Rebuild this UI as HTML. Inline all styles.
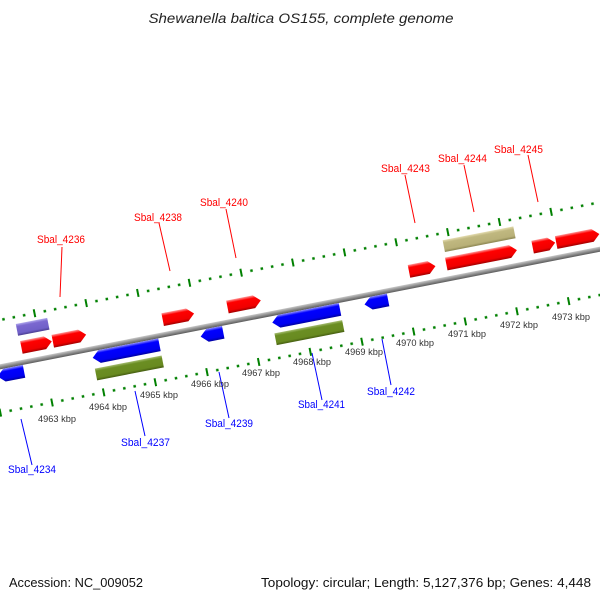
<!DOCTYPE html>
<html><head><meta charset="utf-8"><style>
html,body{margin:0;padding:0;background:#fff}
svg{display:block}
text{font-family:"Liberation Sans","DejaVu Sans",sans-serif}
</style></head><body>
<svg width="600" height="600" viewBox="0 0 600 600" xmlns="http://www.w3.org/2000/svg">
<defs>
<linearGradient id="gr" x1="0" y1="0" x2="0" y2="1"><stop offset="0" stop-color="#ff9a9a"/><stop offset="0.22" stop-color="#ff0000"/><stop offset="0.78" stop-color="#f00000"/><stop offset="1" stop-color="#a00000"/></linearGradient>
<linearGradient id="gb" x1="0" y1="0" x2="0" y2="1"><stop offset="0" stop-color="#9090ff"/><stop offset="0.22" stop-color="#0000ff"/><stop offset="0.78" stop-color="#0000f0"/><stop offset="1" stop-color="#0000a0"/></linearGradient>
<linearGradient id="gp" x1="0" y1="0" x2="0" y2="1"><stop offset="0" stop-color="#b0a8ec"/><stop offset="0.22" stop-color="#7b68d0"/><stop offset="0.78" stop-color="#7060c8"/><stop offset="1" stop-color="#4a3c90"/></linearGradient>
<linearGradient id="gk" x1="0" y1="0" x2="0" y2="1"><stop offset="0" stop-color="#e4dcb0"/><stop offset="0.22" stop-color="#c0b880"/><stop offset="0.78" stop-color="#b8b078"/><stop offset="1" stop-color="#8a8450"/></linearGradient>
<linearGradient id="gg" x1="0" y1="0" x2="0" y2="1"><stop offset="0" stop-color="#a4bc70"/><stop offset="0.22" stop-color="#6b8e23"/><stop offset="0.78" stop-color="#688a20"/><stop offset="1" stop-color="#445c10"/></linearGradient>
<linearGradient id="ga" x1="0" y1="0" x2="0" y2="1"><stop offset="0" stop-color="#c8c8c8"/><stop offset="0.5" stop-color="#909090"/><stop offset="1" stop-color="#5a5a5a"/></linearGradient>
<pattern id="pt" patternUnits="userSpaceOnUse" x="0.7" y="-51" width="52.65" height="10">
<rect x="0" y="1" width="2" height="8" fill="#008000"/>
<rect x="10.28" y="3.75" width="2.5" height="2.5" fill="#008000"/>
<rect x="20.81" y="3.75" width="2.5" height="2.5" fill="#008000"/>
<rect x="31.34" y="3.75" width="2.5" height="2.5" fill="#008000"/>
<rect x="41.87" y="3.75" width="2.5" height="2.5" fill="#008000"/>
</pattern>
<pattern id="pb" patternUnits="userSpaceOnUse" x="0.7" y="40" width="52.65" height="10">
<rect x="0" y="1" width="2" height="8" fill="#008000"/>
<rect x="10.28" y="3.75" width="2.5" height="2.5" fill="#008000"/>
<rect x="20.81" y="3.75" width="2.5" height="2.5" fill="#008000"/>
<rect x="31.34" y="3.75" width="2.5" height="2.5" fill="#008000"/>
<rect x="41.87" y="3.75" width="2.5" height="2.5" fill="#008000"/>
</pattern>
</defs>

<text x="301" y="23" font-size="14" font-style="italic" text-anchor="middle" fill="#222" textLength="305" lengthAdjust="spacingAndGlyphs">Shewanella baltica OS155, complete genome</text>

<!-- label lines -->
<g stroke="#ff0000" stroke-width="1">
<line x1="60" y1="297" x2="62" y2="247"/>
<line x1="170" y1="271" x2="159" y2="223"/>
<line x1="236" y1="258" x2="226" y2="209"/>
<line x1="415" y1="223" x2="405" y2="175"/>
<line x1="474" y1="212" x2="464" y2="165"/>
<line x1="538" y1="202" x2="528" y2="155"/>
</g>
<g stroke="#0000ff" stroke-width="1">
<line x1="21" y1="419" x2="32" y2="465"/>
<line x1="135" y1="391" x2="145" y2="436"/>
<line x1="219" y1="372" x2="229" y2="418"/>
<line x1="312" y1="353" x2="322" y2="400"/>
<line x1="382" y1="339" x2="391" y2="385"/>
</g>

<g transform="translate(300,308) rotate(-11.1)">
<rect x="-330" y="-51" width="660" height="10" fill="url(#pt)"/>
<rect x="-330" y="40" width="660" height="10" fill="url(#pb)"/>
<rect x="-340" y="-2.5" width="680" height="5" fill="url(#ga)"/>
<!-- top boxes -->
<rect x="-282" y="-39" width="32" height="12" fill="url(#gp)"/>
<rect x="153" y="-39" width="72" height="12" fill="url(#gk)"/>
<!-- red arrows -->
<g fill="url(#gr)">
<polygon points="-281,-21.5 -257,-21.5 -250,-15 -257,-8.5 -281,-8.5"/>
<polygon points="-249,-21.5 -222,-21.5 -215,-15 -222,-8.5 -249,-8.5"/>
<polygon points="-137,-21.5 -112,-21.5 -105,-15 -112,-8.5 -137,-8.5"/>
<polygon points="-71,-21.5 -44,-21.5 -37,-15 -44,-8.5 -71,-8.5"/>
<polygon points="114,-21.5 134,-21.5 141,-15 134,-8.5 114,-8.5"/>
<polygon points="152,-21.5 217,-21.5 224,-15 217,-8.5 152,-8.5"/>
<polygon points="240,-21.5 256,-21.5 263,-15 256,-8.5 240,-8.5"/>
<polygon points="264,-21.5 301,-21.5 308,-15 301,-8.5 264,-8.5"/>
</g>
<!-- blue arrows -->
<g fill="url(#gb)">
<polygon points="-283,2.5 -303,2.5 -310,9 -303,15.5 -283,15.5"/>
<polygon points="-145,2.5 -206,2.5 -213,9 -206,15.5 -145,15.5"/>
<polygon points="-80,2.5 -96,2.5 -103,9 -96,15.5 -80,15.5"/>
<polygon points="39,2.5 -23,2.5 -30,9 -23,15.5 39,15.5"/>
<polygon points="88,2.5 71,2.5 64,9 71,15.5 88,15.5"/>
</g>
<!-- green boxes -->
<rect x="-213" y="20" width="68" height="12" fill="url(#gg)"/>
<rect x="-30" y="20" width="69" height="12" fill="url(#gg)"/>
</g>

<!-- feature labels -->
<g font-size="11" fill="#ff0000">
<text x="37" y="243" textLength="48" lengthAdjust="spacingAndGlyphs">Sbal_4236</text>
<text x="134" y="221" textLength="48" lengthAdjust="spacingAndGlyphs">Sbal_4238</text>
<text x="200" y="206" textLength="48" lengthAdjust="spacingAndGlyphs">Sbal_4240</text>
<text x="381" y="172" textLength="49" lengthAdjust="spacingAndGlyphs">Sbal_4243</text>
<text x="438" y="162" textLength="49" lengthAdjust="spacingAndGlyphs">Sbal_4244</text>
<text x="494" y="153" textLength="49" lengthAdjust="spacingAndGlyphs">Sbal_4245</text>
</g>
<g font-size="11" fill="#0000ff">
<text x="8" y="473" textLength="48" lengthAdjust="spacingAndGlyphs">Sbal_4234</text>
<text x="121" y="446" textLength="49" lengthAdjust="spacingAndGlyphs">Sbal_4237</text>
<text x="205" y="427" textLength="48" lengthAdjust="spacingAndGlyphs">Sbal_4239</text>
<text x="298" y="408" textLength="47" lengthAdjust="spacingAndGlyphs">Sbal_4241</text>
<text x="367" y="395" textLength="48" lengthAdjust="spacingAndGlyphs">Sbal_4242</text>
</g>

<!-- kbp labels -->
<g font-size="9" fill="#333">
<text x="38" y="422" textLength="38" lengthAdjust="spacingAndGlyphs">4963 kbp</text>
<text x="89" y="410" textLength="38" lengthAdjust="spacingAndGlyphs">4964 kbp</text>
<text x="140" y="398" textLength="38" lengthAdjust="spacingAndGlyphs">4965 kbp</text>
<text x="191" y="387" textLength="38" lengthAdjust="spacingAndGlyphs">4966 kbp</text>
<text x="242" y="376" textLength="38" lengthAdjust="spacingAndGlyphs">4967 kbp</text>
<text x="293" y="365" textLength="38" lengthAdjust="spacingAndGlyphs">4968 kbp</text>
<text x="345" y="355" textLength="38" lengthAdjust="spacingAndGlyphs">4969 kbp</text>
<text x="396" y="346" textLength="38" lengthAdjust="spacingAndGlyphs">4970 kbp</text>
<text x="448" y="337" textLength="38" lengthAdjust="spacingAndGlyphs">4971 kbp</text>
<text x="500" y="328" textLength="38" lengthAdjust="spacingAndGlyphs">4972 kbp</text>
<text x="552" y="320" textLength="38" lengthAdjust="spacingAndGlyphs">4973 kbp</text>
</g>

<text x="9" y="587" font-size="13" fill="#111" textLength="134" lengthAdjust="spacingAndGlyphs">Accession: NC_009052</text>
<text x="261" y="587" font-size="13" fill="#111" textLength="330" lengthAdjust="spacingAndGlyphs">Topology: circular; Length: 5,127,376 bp; Genes: 4,448</text>
</svg>
</body></html>
